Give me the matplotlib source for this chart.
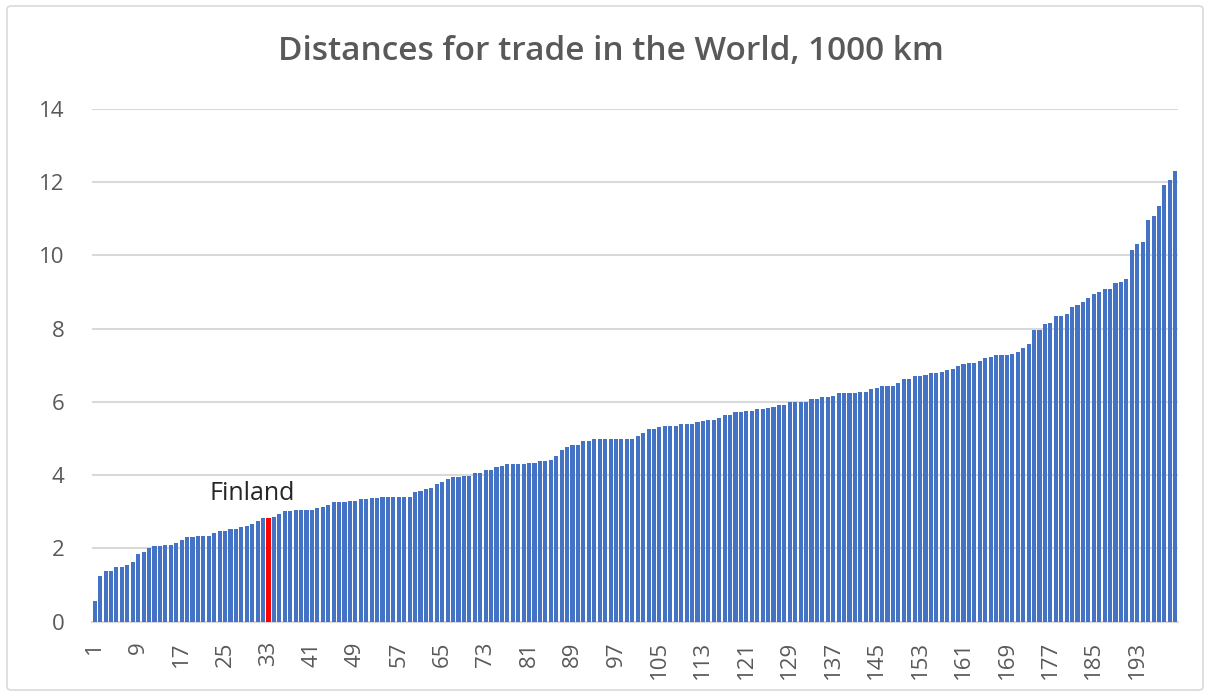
import matplotlib
matplotlib.use("Agg")
import matplotlib.pyplot as plt
from matplotlib.patches import FancyBboxPatch
import numpy as np

# distances (1000 km), sorted ascending, one per country
distances = [
    0.56, 1.26, 1.39, 1.39, 1.50, 1.50, 1.55, 1.62, 1.86, 1.91,
    2.00, 2.06, 2.06, 2.10, 2.10, 2.15, 2.23, 2.31, 2.31, 2.34,
    2.34, 2.34, 2.42, 2.47, 2.47, 2.54, 2.54, 2.59, 2.62, 2.67,
    2.75, 2.82, 2.82, 2.86, 2.94, 3.02, 3.02, 3.06, 3.06, 3.06,
    3.06, 3.10, 3.14, 3.18, 3.26, 3.26, 3.26, 3.30, 3.30, 3.34,
    3.34, 3.38, 3.38, 3.41, 3.41, 3.41, 3.41, 3.41, 3.41, 3.53,
    3.57, 3.61, 3.65, 3.77, 3.82, 3.89, 3.94, 3.94, 3.98, 3.98,
    4.05, 4.05, 4.14, 4.14, 4.22, 4.26, 4.30, 4.30, 4.30, 4.30,
    4.34, 4.34, 4.38, 4.38, 4.42, 4.53, 4.69, 4.78, 4.81, 4.81,
    4.93, 4.93, 4.98, 4.98, 4.98, 4.98, 4.98, 4.98, 4.98, 4.98,
    5.06, 5.15, 5.26, 5.26, 5.31, 5.35, 5.35, 5.35, 5.39, 5.39,
    5.39, 5.44, 5.47, 5.51, 5.51, 5.55, 5.63, 5.63, 5.71, 5.71,
    5.75, 5.75, 5.79, 5.79, 5.83, 5.87, 5.91, 5.91, 5.99, 5.99,
    5.99, 5.99, 6.07, 6.07, 6.12, 6.12, 6.15, 6.23, 6.23, 6.23,
    6.23, 6.27, 6.27, 6.35, 6.39, 6.43, 6.43, 6.43, 6.51, 6.62,
    6.63, 6.71, 6.71, 6.74, 6.79, 6.79, 6.82, 6.87, 6.90, 6.99,
    7.03, 7.07, 7.07, 7.11, 7.19, 7.23, 7.27, 7.27, 7.27, 7.31,
    7.35, 7.47, 7.59, 7.95, 7.95, 8.11, 8.15, 8.35, 8.35, 8.39,
    8.59, 8.63, 8.71, 8.82, 8.94, 8.99, 9.07, 9.07, 9.23, 9.27,
    9.35, 10.14, 10.31, 10.35, 10.95, 11.07, 11.35, 11.91, 12.06, 12.31,
]
highlight_rank = 33
highlight_label = "Finland"
title = "Distances for trade in the World, 1000 km"
y_ticks = [0, 2, 4, 6, 8, 10, 12, 14]

plt.rcParams["font.family"] = ["Open Sans", "DejaVu Sans"]

ranks = np.arange(1, len(distances) + 1)
colors = ["#FF0000" if r == highlight_rank else "#4472C4" for r in ranks]

fig = plt.figure(figsize=(12.12, 6.99), dpi=100)
ax = fig.add_axes([92 / 1212, 1 - 621.7 / 699, (1178 - 92) / 1212, (621.7 - 108.6) / 699])

ax.bar(ranks, distances, width=0.76, color=colors, zorder=3)

ax.set_xlim(0.5, len(distances) + 0.5)
ax.set_ylim(0, 14)
ax.set_yticks(y_ticks)
ax.set_xticks(ranks[::8])
ax.set_xticklabels([str(r) for r in ranks[::8]], rotation=90)
ax.tick_params(axis="y", length=0, pad=20, labelsize=16, labelcolor="#595959")
ax.tick_params(axis="x", length=0, pad=14, labelsize=16, labelcolor="#595959")
for lab in ax.get_xticklabels():
    lab.set_verticalalignment("top")

ax.grid(axis="y", color="#D9D9D9", linewidth=1.5, zorder=0)
for side in ["top", "right", "left"]:
    ax.spines[side].set_visible(False)
ax.spines["bottom"].set_color("#D9D9D9")
ax.spines["bottom"].set_linewidth(1.5)

ax.annotate(highlight_label, (highlight_rank, distances[highlight_rank - 1]),
            xytext=(-12, 13), textcoords="offset points",
            ha="center", va="baseline", fontsize=18, color="#262626")

fig.text(611 / 1212, 1 - 52 / 699, title, ha="center", va="center",
         fontsize=24, fontweight="semibold", color="#595959")

border = FancyBboxPatch((7 / 1212, 9 / 699), 1196 / 1212, 684 / 699,
                        boxstyle="round,pad=0,rounding_size=0.004",
                        transform=fig.transFigure, fill=False,
                        edgecolor="#D9D9D9", linewidth=1.2)
fig.patches.append(border)

fig.savefig("out.png", dpi=100)
